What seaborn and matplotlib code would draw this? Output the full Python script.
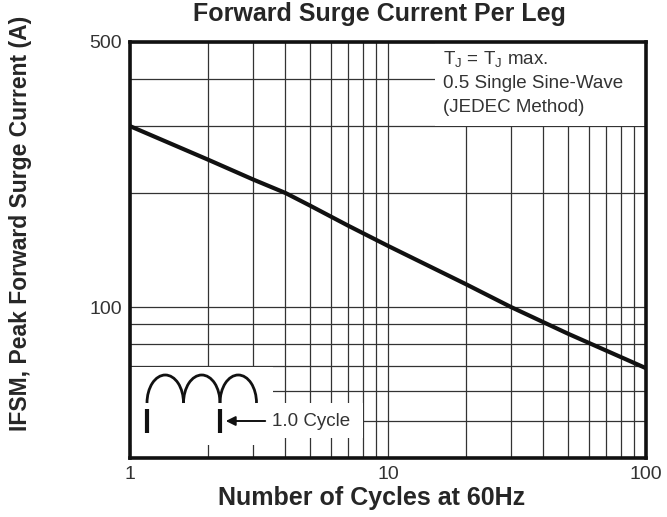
import numpy as np
import seaborn as sns
import matplotlib.pyplot as plt
from matplotlib.patches import Rectangle, Arc
from matplotlib.ticker import FixedLocator, NullFormatter

# data
cycles = [1, 2, 3, 4, 5, 7, 10, 20, 30, 50, 100]
current = [300, 245, 217, 200, 185, 164, 145, 115, 100, 85, 69]

x_ticks = [1, 10, 100]
x_grid = [2, 3, 4, 5, 6, 7, 8, 9, 20, 30, 40, 50, 60, 70, 80, 90]
y_ticks = [100, 500]
y_grid = [50, 60, 70, 80, 90, 200, 300, 400]

sns.set_style("white")
plt.rcParams['font.family'] = ['Liberation Sans', 'DejaVu Sans']
plt.rcParams['mathtext.fontset'] = 'custom'
plt.rcParams['mathtext.rm'] = 'Liberation Sans'

fig = plt.figure(figsize=(6.67, 5.17), dpi=100)
L, R, T, B = 130, 646, 42, 458
ax = fig.add_axes([L / 667, 1 - B / 517, (R - L) / 667, (B - T) / 517])


def fx(px):
    return (px - L) / (R - L)


def fy(py):
    return (B - py) / (B - T)


sns.lineplot(x=cycles, y=current, ax=ax, color='#111111', linewidth=3.0, zorder=3)
ax.set_xscale('log')
ax.set_yscale('log')
ax.set_xlim(1, 100)
ax.set_ylim(40, 500)

ax.xaxis.set_major_locator(FixedLocator(x_ticks))
ax.xaxis.set_minor_locator(FixedLocator(x_grid))
ax.yaxis.set_major_locator(FixedLocator(y_ticks))
ax.yaxis.set_minor_locator(FixedLocator(y_grid))
ax.set_xticklabels([str(v) for v in x_ticks])
ax.set_yticklabels([str(v) for v in y_ticks])
ax.xaxis.set_minor_formatter(NullFormatter())
ax.yaxis.set_minor_formatter(NullFormatter())
ax.tick_params(which='both', length=0, labelsize=14, colors='#333333', pad=6)
ax.set_axisbelow(True)
ax.grid(which='both', color='#333333', linewidth=0.9)

for s in ax.spines.values():
    s.set_linewidth(2.6)
    s.set_color('#111111')

ax.set_title('Forward Surge Current Per Leg', fontsize=18, fontweight='bold', pad=15, x=0.484)
ax.set_xlabel('Number of Cycles at 60Hz', fontsize=18, fontweight='bold')
ax.set_ylabel('IFSM, Peak Forward Surge Current (A)', fontsize=16.5, fontweight='bold')
ax.xaxis.set_label_coords(0.469, -0.067)
ax.yaxis.set_label_coords(-0.19, 0.565)

# white patches over the grid
for x0, y0, x1, y1 in [(435, 42, 646, 126), (130, 367, 273, 445), (130, 403, 363, 438)]:
    ax.add_patch(Rectangle((fx(x0), fy(y1)), fx(x1) - fx(x0), fy(y0) - fy(y1),
                           transform=ax.transAxes, facecolor='white', edgecolor='none', zorder=1))

ax.text(fx(443), fy(60), r'T$_\mathregular{J}$ = T$_\mathregular{J}$ max.', transform=ax.transAxes,
        fontsize=13.5, color='#333333', va='center', ha='left', zorder=4)
ax.text(fx(443), fy(84), '0.5 Single Sine-Wave', transform=ax.transAxes,
        fontsize=13.5, color='#333333', va='center', ha='left', zorder=4)
ax.text(fx(443), fy(108), '(JEDEC Method)', transform=ax.transAxes,
        fontsize=13.5, color='#333333', va='center', ha='left', zorder=4)

# waveform sketch
hump_starts = [147, 183.5, 220]
for hx in hump_starts:
    ax.add_patch(Arc(((fx(hx) + fx(hx + 36.5)) / 2, fy(403)), fx(hx + 36.5) - fx(hx),
                     2 * (fy(375) - fy(403)), theta1=0, theta2=180,
                     transform=ax.transAxes, color='#111111', linewidth=2.0, zorder=4))
for bx in [147, 220]:
    ax.plot([fx(bx), fx(bx)], [fy(409), fy(433)], transform=ax.transAxes,
            color='#111111', linewidth=3.0, solid_capstyle='butt', zorder=4)
ax.annotate('', xy=(fx(223), fy(421)), xytext=(fx(268), fy(421)),
            xycoords='axes fraction', textcoords='axes fraction',
            arrowprops=dict(arrowstyle='-|>', color='#111111', lw=1.4, mutation_scale=14), zorder=4)
ax.text(fx(272), fy(421), '1.0 Cycle', transform=ax.transAxes,
        fontsize=13.5, color='#333333', va='center', ha='left', zorder=4)

plt.savefig('out.png', dpi=100)
plt.close()
